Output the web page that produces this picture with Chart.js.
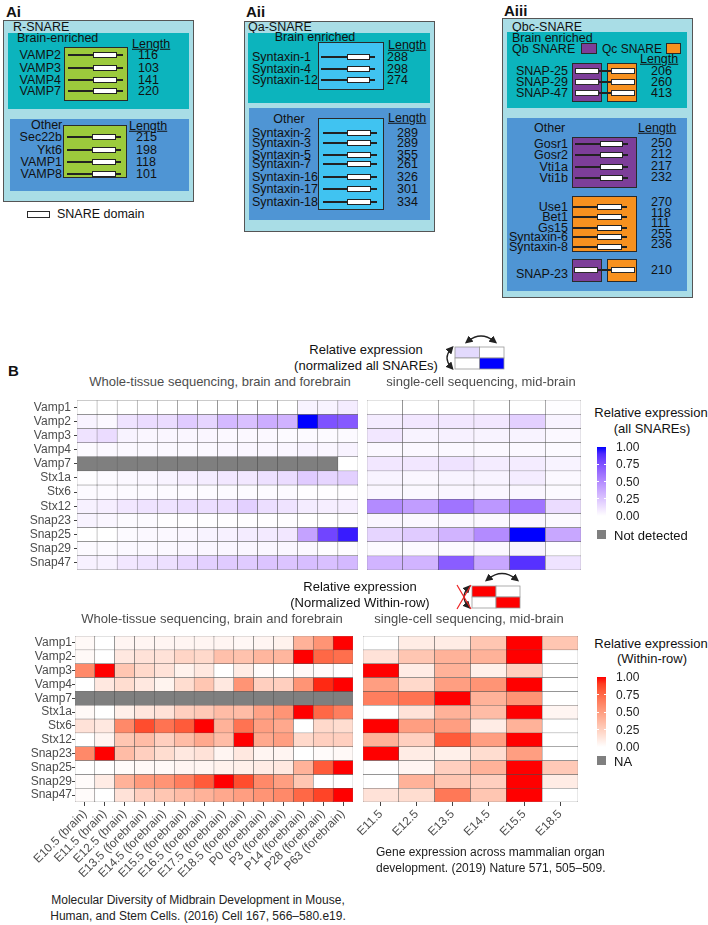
<!DOCTYPE html>
<html>
<head>
<meta charset="utf-8">
<script src="https://cdn.jsdelivr.net/npm/chart.js@4.4.0/dist/chart.umd.min.js"></script>
<style>
body { margin: 0; background: #fff; font-family: "Liberation Sans", Arial, sans-serif; color: #111; }
#page { position: relative; width: 708px; height: 925px; overflow: hidden; }
.t { position: absolute; white-space: nowrap; line-height: 1; }
.b { position: absolute; box-sizing: border-box; }
canvas { position: absolute; }
svg { position: absolute; }
</style>
</head>
<body>
<div id="page">
  <canvas id="topTissueChart" width="362" height="190" style="left:0px;top:390px"></canvas>
  <canvas id="topCellChart" width="230" height="190" style="left:359px;top:390px"></canvas>
  <canvas id="rowTissueChart" width="357" height="266" style="left:0px;top:626px"></canvas>
  <canvas id="rowCellChart" width="231" height="266" style="left:355px;top:626px"></canvas>

  <svg width="70" height="45" style="left:440px;top:330px">
    <defs>
      <marker id="ah1" markerWidth="6" markerHeight="6" refX="3" refY="3" orient="auto-start-reverse">
        <path d="M0,0 L6,3 L0,6 z" fill="#222"/>
      </marker>
    </defs>
    <rect x="15" y="17" width="24.5" height="11" fill="#e3dafd" stroke="#999" stroke-width="0.8"/>
    <rect x="39.5" y="17" width="24.5" height="11" fill="#fff" stroke="#999" stroke-width="0.8"/>
    <rect x="15" y="28" width="24.5" height="11" fill="#fff" stroke="#999" stroke-width="0.8"/>
    <rect x="39.5" y="28" width="24.5" height="11" fill="#0000ff" stroke="#999" stroke-width="0.8"/>
    <path d="M28 11 Q41 1 54 11" fill="none" stroke="#222" stroke-width="1.3" marker-start="url(#ah1)" marker-end="url(#ah1)"/>
    <path d="M11 19 Q3 28 11 37" fill="none" stroke="#222" stroke-width="1.3" marker-start="url(#ah1)" marker-end="url(#ah1)"/>
  </svg>

  <svg width="75" height="48" style="left:450px;top:565px">
    <defs>
      <marker id="ah2" markerWidth="6" markerHeight="6" refX="3" refY="3" orient="auto-start-reverse">
        <path d="M0,0 L6,3 L0,6 z" fill="#222"/>
      </marker>
    </defs>
    <rect x="22" y="21" width="24" height="11" fill="#ff0000" stroke="#999" stroke-width="0.8"/>
    <rect x="46" y="21" width="24" height="11" fill="#fff" stroke="#999" stroke-width="0.8"/>
    <rect x="22" y="32" width="24" height="11" fill="#fff" stroke="#999" stroke-width="0.8"/>
    <rect x="46" y="32" width="24" height="11" fill="#ff0000" stroke="#999" stroke-width="0.8"/>
    <path d="M38 14 Q52 3 66 14" fill="none" stroke="#222" stroke-width="1.3" marker-start="url(#ah2)" marker-end="url(#ah2)"/>
    <path d="M18 23 Q10 32 18 41" fill="none" stroke="#222" stroke-width="1.3" marker-start="url(#ah2)" marker-end="url(#ah2)"/>
    <line x1="7" y1="20" x2="21" y2="44" stroke="#e22" stroke-width="1.2"/>
    <line x1="21" y1="20" x2="7" y2="44" stroke="#e22" stroke-width="1.2"/>
  </svg>
</div>

<script>
// heatmap data (rows = genes, columns = stages), null = not detected
var genes = ['Vamp1', 'Vamp2', 'Vamp3', 'Vamp4', 'Vamp7', 'Stx1a', 'Stx6', 'Stx12', 'Snap23', 'Snap25', 'Snap29', 'Snap47'];
var tissueStages = ['E10.5 (brain)', 'E11.5 (brain)', 'E12.5 (brain)', 'E13.5 (forebrain)', 'E14.5 (forebrain)',
  'E15.5 (forebrain)', 'E16.5 (forebrain)', 'E17.5 (forebrain)', 'E18.5 (forebrain)', 'P0 (forebrain)',
  'P3 (forebrain)', 'P14 (forebrain)', 'P28 (forebrain)', 'P63 (forebrain)'];
var cellStages = ['E11.5', 'E12.5', 'E13.5', 'E14.5', 'E15.5', 'E18.5'];

// relative expression, normalized over all SNAREs
var allTissue = [
  [0, 0, 0, 0, 0, 0, 0, 0, 0, 0, 0, 0.05, 0.05, 0.08],
  [0.05, 0.03, 0.12, 0.15, 0.15, 0.22, 0.18, 0.3, 0.27, 0.35, 0.33, 1, 0.75, 0.72],
  [0.12, 0.15, 0.05, 0.04, 0.04, 0.04, 0.04, 0.03, 0.03, 0.03, 0.02, 0.02, 0.02, 0.02],
  [0.02, 0.03, 0.03, 0.03, 0.03, 0.03, 0.03, 0.04, 0.04, 0.04, 0.04, 0.05, 0.04, 0.05],
  [null, null, null, null, null, null, null, null, null, null, null, null, null, 0],
  [0.01, 0.02, 0.03, 0.04, 0.05, 0.07, 0.08, 0.1, 0.1, 0.13, 0.15, 0.22, 0.18, 0.2],
  [0.02, 0.02, 0.02, 0.02, 0.02, 0.02, 0.02, 0.02, 0.02, 0.02, 0.02, 0.01, 0.01, 0.01],
  [0.06, 0.07, 0.1, 0.12, 0.12, 0.14, 0.14, 0.15, 0.2, 0.14, 0.12, 0.08, 0.07, 0.07],
  [0.05, 0.04, 0.02, 0.02, 0.01, 0.01, 0.01, 0.01, 0.01, 0.01, 0.01, 0, 0, 0],
  [0, 0, 0.02, 0.03, 0.03, 0.04, 0.05, 0.06, 0.08, 0.09, 0.1, 0.4, 0.8, 0.95],
  [0.02, 0.02, 0.03, 0.03, 0.03, 0.04, 0.04, 0.04, 0.04, 0.04, 0.04, 0.03, 0.01, 0.01],
  [0.06, 0.06, 0.1, 0.12, 0.13, 0.17, 0.2, 0.22, 0.22, 0.25, 0.25, 0.28, 0.27, 0.3]
];
var allCell = [
  [0, 0, 0, 0, 0, 0.01],
  [0.08, 0.1, 0.1, 0.1, 0.2, 0.05],
  [0.1, 0.05, 0.06, 0.05, 0.05, 0.03],
  [0.03, 0.03, 0.03, 0.03, 0.03, 0.02],
  [0.1, 0.1, 0.12, 0.08, 0.08, 0.05],
  [0.05, 0.04, 0.05, 0.05, 0.08, 0.03],
  [0.04, 0.03, 0.04, 0.04, 0.04, 0.02],
  [0.5, 0.42, 0.6, 0.45, 0.6, 0.15],
  [0.04, 0.03, 0.03, 0.03, 0.04, 0.02],
  [0.18, 0.22, 0.32, 0.5, 1, 0.38],
  [0.02, 0.02, 0.02, 0.03, 0.05, 0.01],
  [0.32, 0.32, 0.7, 0.38, 0.88, 0.12]
];

// relative expression, normalized within each row
var rowTissue = [
  [0.03, 0, 0.05, 0.05, 0.05, 0.05, 0.05, 0.05, 0.04, 0.05, 0.07, 0.4, 0.55, 1],
  [0.03, 0, 0.12, 0.15, 0.15, 0.22, 0.2, 0.33, 0.32, 0.38, 0.38, 1, 0.75, 0.72],
  [0.6, 1, 0.3, 0.2, 0.15, 0.07, 0.12, 0, 0.1, 0.02, 0, 0.03, 0.02, 0],
  [0, 0.12, 0.18, 0.12, 0.06, 0.18, 0.3, 0.12, 0.55, 0.25, 0.25, 0.55, 0.95, 1],
  [null, null, null, null, null, null, null, null, null, null, null, null, null, null],
  [0.03, 0, 0.08, 0.13, 0.15, 0.25, 0.28, 0.35, 0.35, 0.48, 0.55, 1, 0.75, 0.65],
  [0.15, 0.12, 0.6, 0.85, 0.7, 0.8, 1, 0.4, 0.7, 0.5, 0.45, 0, 0.2, 0.18],
  [0, 0.05, 0.3, 0.35, 0.25, 0.35, 0.45, 0.35, 1, 0.45, 0.5, 0.2, 0.25, 0.25],
  [0.6, 1, 0.35, 0.25, 0.18, 0.12, 0.15, 0.05, 0.12, 0.05, 0.05, 0, 0.02, 0.03],
  [0, 0, 0.02, 0.03, 0.03, 0.05, 0.05, 0.07, 0.08, 0.1, 0.12, 0.4, 0.8, 1],
  [0.02, 0.1, 0.4, 0.52, 0.55, 0.65, 0.8, 1, 0.85, 0.6, 0.5, 0.3, 0, 0],
  [0.02, 0, 0.15, 0.25, 0.3, 0.35, 0.4, 0.45, 0.5, 0.55, 0.6, 0.75, 0.88, 1]
];
var rowCell = [
  [0, 0.1, 0.1, 0.3, 1, 0.3],
  [0.15, 0.3, 0.4, 0.4, 1, 0],
  [1, 0.1, 0.4, 0.08, 0.25, 0],
  [0.5, 0.2, 0.5, 0.55, 1, 0],
  [0.65, 0.7, 1, 0.4, 0.55, 0],
  [0, 0.15, 0.4, 0.35, 1, 0.05],
  [1, 0.5, 0.5, 0.1, 0.4, 0],
  [0.4, 0.25, 0.8, 0.5, 1, 0],
  [1, 0.1, 0.08, 0.18, 0.5, 0],
  [0, 0.05, 0.25, 0.4, 1, 0.28],
  [0, 0.4, 0.3, 0.25, 1, 0.1],
  [0.15, 0.18, 0.68, 0.3, 1, 0]
];

// panel A: SNARE names and protein lengths
var rBrainNames = ['VAMP2', 'VAMP3', 'VAMP4', 'VAMP7'];
var rBrainLengths = [116, 103, 141, 220];
var rOtherNames = ['Sec22b', 'Ykt6', 'VAMP1', 'VAMP8'];
var rOtherLengths = [215, 198, 118, 101];
var qaBrainNames = ['Syntaxin-1', 'Syntaxin-4', 'Syntaxin-12'];
var qaBrainLengths = [288, 298, 274];
var qaOtherNames = ['Syntaxin-2', 'Syntaxin-3', 'Syntaxin-5', 'Syntaxin-7', 'Syntaxin-16', 'Syntaxin-17', 'Syntaxin-18'];
var qaOtherLengths = [289, 289, 355, 261, 326, 301, 334];
var qbcBrainNames = ['SNAP-25', 'SNAP-29', 'SNAP-47'];
var qbcBrainLengths = [206, 260, 413];
var qbOtherNames = ['Gosr1', 'Gosr2', 'Vti1a', 'Vti1b'];
var qbOtherLengths = [250, 212, 217, 232];
var qcOtherNames = ['Use1', 'Bet1', 'Gs15', 'Syntaxin-6', 'Syntaxin-8'];
var qcOtherLengths = [270, 118, 111, 255, 236];
var snap23Length = 210;

var FONT = '"Liberation Sans", Arial, sans-serif';
var NA_GREY = '#7f7f7f';
var LIGHT = '#a9dde6', TEAL = '#0cb4bd', BLUE = '#4f95d4', GREEN = '#9cca3c', SKY = '#40c3f1';
var PURPLE = '#7d3e99', ORANGE = '#f7911f';
var page = document.getElementById('page');

// ---------- helpers for the schematic ----------
function box(x, y, w, h, bg, border) {
  var d = document.createElement('div');
  d.className = 'b';
  d.style.cssText = 'left:' + x + 'px;top:' + y + 'px;width:' + w + 'px;height:' + h + 'px;background:' + bg + ';' +
    (border ? 'border:' + border + ';' : '');
  page.appendChild(d);
  return d;
}
function text(x, y, s, size, align, extra) {
  var d = document.createElement('div');
  d.className = 't';
  d.textContent = s;
  var tx = align === 'right' ? '-100%' : (align === 'center' ? '-50%' : '0');
  d.style.cssText = 'left:' + x + 'px;top:' + y + 'px;font-size:' + size + 'px;transform:translate(' + tx + ',-50%);' + (extra || '');
  page.appendChild(d);
  return d;
}
function protein(x1, x2, r1, r2, y) {
  box(x1, y - 0.6, x2 - x1, 1.3, '#222');
  box(r1, y - 3.2, r2 - r1, 6.5, '#fff', '1.3px solid #222');
}
var BORDER = '1.3px solid #2a2a2a';
var U = 'text-decoration:underline';
var FS = 12.5;

// ---------- Ai ----------
text(6, 11, 'Ai', 15, 'left', 'font-weight:bold');
box(3, 20, 191, 182, LIGHT, '1.5px solid #555');
text(13, 27, 'R-SNARE', FS);
box(8, 33, 181, 76, TEAL);
text(17, 38, 'Brain-enriched', FS);
box(64, 47, 64, 54, GREEN, BORDER);
text(132, 44, 'Length', FS, 'left', U);
[55, 68, 80, 91].forEach(function(y, i) {
  text(61, y, rBrainNames[i], FS, 'right');
  protein(68, 123, 93, 117, y);
  text(138, y, String(rBrainLengths[i]), FS);
});
box(10, 119, 179, 72, BLUE);
text(31, 125, 'Other', FS);
box(63, 125, 64, 53, GREEN, BORDER);
text(129, 126, 'Length', FS, 'left', U);
[137, 150, 162, 174].forEach(function(y, i) {
  text(62, y, rOtherNames[i], FS, 'right');
  protein(67, 121, 92, 116, y);
  text(136, y, String(rOtherLengths[i]), FS);
});
box(27, 211, 23, 6.5, '#fff', BORDER);
text(57, 214, 'SNARE domain', FS);

// ---------- Aii ----------
text(246, 11, 'Aii', 15, 'left', 'font-weight:bold');
box(244, 21, 191, 211, LIGHT, '1.5px solid #555');
text(248, 27, 'Qa-SNARE', FS);
box(248, 33, 182, 70, TEAL);
text(315, 37, 'Brain enriched', FS, 'center');
box(318, 42, 66, 48, SKY, BORDER);
text(388, 45, 'Length', FS, 'left', U);
[57, 69, 80].forEach(function(y, i) {
  text(252, y, qaBrainNames[i], FS);
  protein(321, 375, 347, 370, y);
  text(387, y, String(qaBrainLengths[i]), FS);
});
box(249, 108, 181, 112, BLUE);
text(289, 119, 'Other', FS, 'center');
box(318, 118, 66, 92, SKY, BORDER);
text(388, 118, 'Length', FS, 'left', U);
[133, 143, 155, 164, 177, 189, 202].forEach(function(y, i) {
  text(252, y, qaOtherNames[i], FS);
  protein(323, 377, 347, 371, y);
  text(397, y, String(qaOtherLengths[i]), FS);
});

// ---------- Aiii ----------
text(504, 10, 'Aiii', 15, 'left', 'font-weight:bold');
box(502, 18, 191, 280, LIGHT, '1.5px solid #555');
text(512, 27, 'Qbc-SNARE', FS);
box(507, 32, 180, 76, TEAL);
text(512, 38, 'Brain enriched', FS);
text(512, 49, 'Qb SNARE', FS);
box(581, 43, 16, 11, PURPLE, BORDER);
text(602, 49, 'Qc SNARE', 12);
box(666, 43, 15, 11, ORANGE, BORDER);
text(640, 59, 'Length', FS, 'left', U);
box(572, 63, 30, 39, PURPLE, BORDER);
box(607, 63, 30, 39, ORANGE, BORDER);
[71, 82, 93].forEach(function(y, i) {
  text(568, y, qbcBrainNames[i], FS, 'right');
  box(598, y - 0.6, 14, 1.3, '#222');
  box(575, y - 3.2, 24, 6.5, '#fff', BORDER);
  box(611, y - 3.2, 24, 6.5, '#fff', BORDER);
  text(651, y, String(qbcBrainLengths[i]), FS);
});
box(507, 118, 180, 173, BLUE);
text(534, 128, 'Other', FS);
text(638, 128, 'Length', FS, 'left', U);
box(572, 137, 65, 51, PURPLE, BORDER);
[144, 155, 167, 178].forEach(function(y, i) {
  text(568, y, qbOtherNames[i], FS, 'right');
  protein(575, 628, 600, 623, y);
  text(651, y - 1, String(qbOtherLengths[i]), FS);
});
box(572, 196, 65, 56, ORANGE, BORDER);
[207, 217, 228, 237, 247].forEach(function(y, i) {
  text(568, y, qcOtherNames[i], FS, 'right');
  protein(573, 627, 597, 622, y);
});
[202, 213, 223, 234, 244].forEach(function(y, i) {
  text(651, y, String(qcOtherLengths[i]), FS);
});
box(572, 259, 30, 23, PURPLE, BORDER);
box(607, 259, 30, 23, ORANGE, BORDER);
box(598, 269.4, 14, 1.3, '#222');
box(574, 266.8, 24, 6.5, '#fff', BORDER);
box(611, 266.8, 24, 6.5, '#fff', BORDER);
text(568, 274, 'SNAP-23', FS, 'right');
text(651, 270, String(snap23Length), FS);

// ---------- colour scales (ggplot-like Lab interpolation from white) ----------
function labToRgb(L, a, b) {
  var fy = (L + 16) / 116, fx = fy + a / 500, fz = fy - b / 200;
  function finv(t) { var t3 = t * t * t; return t3 > 0.008856 ? t3 : (t - 16 / 116) / 7.787; }
  var X = 0.95047 * finv(fx), Y = finv(fy), Z = 1.08883 * finv(fz);
  var r = 3.2404542 * X - 1.5371385 * Y - 0.4985314 * Z;
  var g = -0.9692660 * X + 1.8760108 * Y + 0.0415560 * Z;
  var bl = 0.0556434 * X - 0.2040259 * Y + 1.0572252 * Z;
  function gam(c) {
    c = c <= 0.0031308 ? 12.92 * c : 1.055 * Math.pow(c, 1 / 2.4) - 0.055;
    return Math.round(Math.max(0, Math.min(1, c)) * 255);
  }
  return 'rgb(' + gam(r) + ',' + gam(g) + ',' + gam(bl) + ')';
}
function ramp(hi) {
  return function(v) { return labToRgb(100 + (hi[0] - 100) * v, hi[1] * v, hi[2] * v); };
}
var blueScale = ramp([32.30, 79.19, -107.86]);
var redScale = ramp([53.24, 80.09, 67.20]);

// ---------- heatmaps ----------
Chart.defaults.font.family = FONT;

function makeHeat(id, values, stages, colorFn, opts) {
  var n = genes.length;
  var datasets = genes.map(function(g, i) {
    return {
      label: g,
      data: stages.map(function() { return [n - 1 - i, n - i]; }),
      backgroundColor: values[i].map(function(v) { return v === null ? NA_GREY : colorFn(v); }),
      borderColor: 'rgba(60,60,60,0.8)',
      borderWidth: 0.5,
      borderSkipped: false,
      grouped: false,
      barPercentage: 1,
      categoryPercentage: 1
    };
  });
  return new Chart(document.getElementById(id), {
    type: 'bar',
    data: { labels: stages, datasets: datasets },
    options: {
      responsive: false,
      animation: false,
      layout: { padding: opts.padding },
      plugins: { legend: { display: false }, tooltip: { enabled: false } },
      scales: {
        x: {
          type: 'category',
          offset: true,
          display: opts.showX,
          border: { display: false },
          grid: { offset: false, drawOnChartArea: false, tickLength: 4, color: '#444' },
          ticks: { autoSkip: false, minRotation: 45, maxRotation: 45, padding: 1, color: '#4d4d4d', font: { size: 12 } },
          afterFit: function(axis) { if (opts.xHeight) axis.height = opts.xHeight; }
        },
        y: {
          type: 'linear',
          min: 0,
          max: n,
          display: opts.showY,
          border: { display: false },
          grid: { drawOnChartArea: false, tickLength: 3, color: '#444' },
          afterBuildTicks: function(axis) {
            axis.ticks = genes.map(function(g, i) { return { value: n - i - 0.5 }; });
          },
          ticks: {
            autoSkip: false,
            padding: opts.yPad,
            color: '#4d4d4d',
            font: { size: 12 },
            callback: function(v) { return genes[Math.round(n - 0.5 - v)]; }
          },
          afterFit: function(axis) { if (opts.yWidth) axis.width = opts.yWidth; }
        }
      }
    }
  });
}

makeHeat('topTissueChart', allTissue, tissueStages, blueScale,
  { showX: false, showY: true, yWidth: 77, yPad: 3, padding: { top: 10, bottom: 10, left: 0, right: 4 } });
makeHeat('topCellChart', allCell, cellStages, blueScale,
  { showX: false, showY: false, padding: { top: 10, bottom: 10, left: 8, right: 8 } });
makeHeat('rowTissueChart', rowTissue, tissueStages, redScale,
  { showX: true, showY: true, yWidth: 75, yPad: 0, xHeight: 90, padding: { top: 10, bottom: 0, left: 0, right: 4 } });
makeHeat('rowCellChart', rowCell, cellStages, redScale,
  { showX: true, showY: false, xHeight: 90, padding: { top: 10, bottom: 0, left: 8, right: 8 } });

// ---------- titles and legends ----------
text(8, 370, 'B', 15, 'left', 'font-weight:bold');
text(366, 349, 'Relative expression', 13, 'center');
text(366, 365, '(normalized all SNAREs)', 13, 'center');
text(220, 381, 'Whole-tissue sequencing, brain and forebrain', 13, 'center', 'color:#4d4d4d');
text(481, 381, 'single-cell sequencing, mid-brain', 13, 'center', 'color:#4d4d4d');

text(360, 586, 'Relative expression', 13, 'center');
text(360, 602, '(Normalized Within-row)', 13, 'center');
text(212, 618, 'Whole-tissue sequencing, brain and forebrain', 13, 'center', 'color:#4d4d4d');
text(469, 618, 'single-cell sequencing, mid-brain', 13, 'center', 'color:#4d4d4d');

function colorbar(x, y1, y2, colorFn) {
  var stops = [];
  for (var k = 0; k <= 10; k++) stops.push(colorFn(k / 10) + ' ' + (k * 10) + '%');
  box(x, y1, 9, y2 - y1, 'linear-gradient(to top,' + stops.join(',') + ')');
  [0.25, 0.5, 0.75].forEach(function(v) {
    var y = y2 - v * (y2 - y1);
    box(x, y - 0.5, 2, 1, '#fff');
    box(x + 7, y - 0.5, 2, 1, '#fff');
  });
  ['0.00', '0.25', '0.50', '0.75', '1.00'].forEach(function(s, i) {
    text(x + 19, y2 - i * 0.25 * (y2 - y1), s, 12, 'left', 'color:#222');
  });
}

text(651, 412, 'Relative expression', 13, 'center');
text(652, 428, '(all SNAREs)', 13, 'center');
colorbar(597, 447, 516, blueScale);
box(597, 530, 9, 9, NA_GREY);
text(614, 535, 'Not detected', 13);

text(651, 643, 'Relative expression', 13, 'center');
text(652, 658, '(Within-row)', 13, 'center');
colorbar(597, 677, 747, redScale);
box(597, 756, 9, 9, NA_GREY);
text(614, 761, 'NA', 13);

text(376, 852, 'Gene expression across mammalian organ', 12, 'left', 'color:#222');
text(376, 868, 'development. (2019) Nature 571, 505\u2013509.', 12, 'left', 'color:#222');
text(198, 900, 'Molecular Diversity of Midbrain Development in Mouse,', 12, 'center', 'color:#222');
text(198, 916, 'Human, and Stem Cells. (2016) Cell 167, 566\u2013580.e19.', 12, 'center', 'color:#222');
</script>
</body>
</html>
